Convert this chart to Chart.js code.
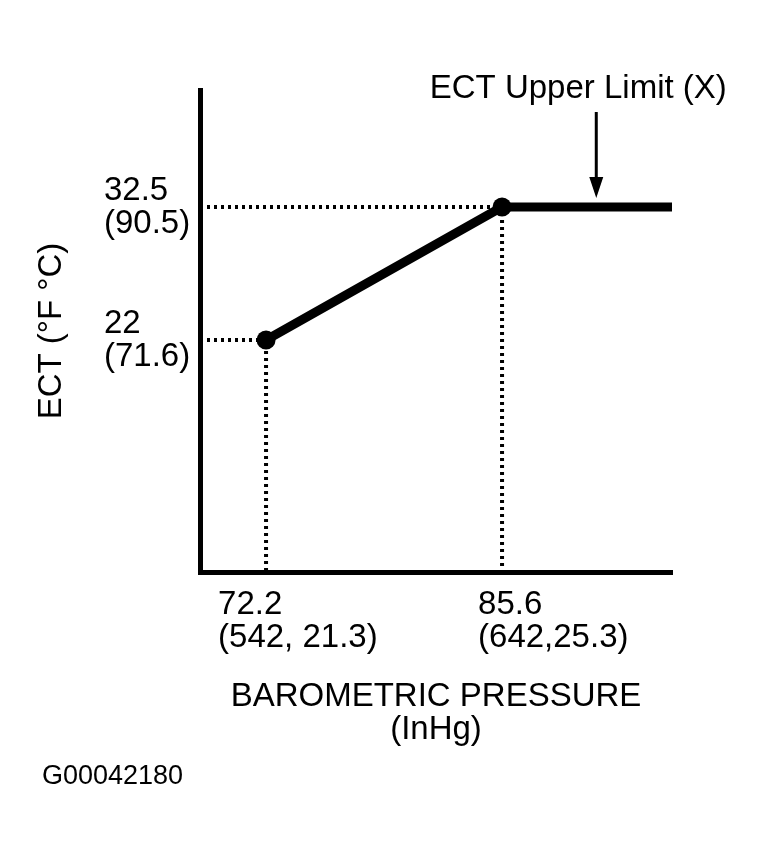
<!DOCTYPE html>
<html>
<head>
<meta charset="utf-8">
<title>ECT vs Barometric Pressure</title>
<script src="https://cdn.jsdelivr.net/npm/chart.js@4"></script>
<style>
  html, body { margin: 0; padding: 0; background: #fff; }
  #wrap { width: 764px; height: 860px; position: relative; }
</style>
</head>
<body>
<div id="wrap"><canvas id="ectChart"></canvas></div>
<script>
// values
const pressure = [72.2, 85.6, 95.25];   // barometric pressure (x)
const ect = [22, 32.5, 32.5];           // ECT (y)
const xTicks = [72.2, 85.6];
const xTickLabels = [['72.2', '(542, 21.3)'], ['85.6', '(642,25.3)']];
const yTicks = [22, 32.5];
const yTickLabels = [['22', '(71.6)'], ['32.5', '(90.5)']];
const xRange = [68.45, 95.25];
const yRange = [3.68, 41.74];
const limitAt = 90.95;   // x value the upper limit arrow points at
const limitLabel = 'ECT Upper Limit (X)';
const figureCode = 'G00042180';

const FONT = '"Liberation Sans", Arial, sans-serif';

// dotted guides from each break point to both axes
let guides = xTicks.map((v, i) => ({
    data: [
        { x: xRange[0], y: ect[i] },
        { x: pressure[i], y: ect[i] },
        { x: pressure[i], y: yRange[0] }
    ],
    borderColor: '#000',
    borderWidth: 4,
    borderDash: [3, 4],
    pointRadius: 0,
    fill: false
}));

const annotate = {
    id: 'annotate',
    afterDraw(chart) {
        const { ctx, scales: { x, y } } = chart;
        const ax = x.getPixelForValue(limitAt);
        const lineY = y.getPixelForValue(ect[2]);
        ctx.save();
        ctx.fillStyle = '#000';
        ctx.strokeStyle = '#000';
        ctx.font = '33px ' + FONT;
        ctx.textAlign = 'center';
        ctx.textBaseline = 'middle';
        ctx.fillText(limitLabel, ax - 18, lineY - 118);

        // arrow down to the flat part
        ctx.lineWidth = 3;
        ctx.beginPath();
        ctx.moveTo(ax, lineY - 95);
        ctx.lineTo(ax, lineY - 26);
        ctx.stroke();
        ctx.beginPath();
        ctx.moveTo(ax - 7, lineY - 30);
        ctx.lineTo(ax + 7, lineY - 30);
        ctx.lineTo(ax, lineY - 9);
        ctx.closePath();
        ctx.fill();

        // x tick labels, left aligned a little before each tick
        const shift = [-48, -24];
        ctx.textAlign = 'left';
        xTicks.forEach((v, i) => {
            const px = x.getPixelForValue(v) + shift[i];
            xTickLabels[i].forEach((line, j) => {
                ctx.fillText(line, px, x.top + 33 + j * 33);
            });
        });

        ctx.font = '27px ' + FONT;
        ctx.fillText(figureCode, 42, 777);
        ctx.restore();
    }
};

let ctx = document.getElementById('ectChart').getContext('2d');

new Chart(ctx, {
    type: 'line',
    data: {
        datasets: [{
            data: pressure.map((p, i) => ({ x: p, y: ect[i] })),
            borderColor: '#000',
            backgroundColor: '#000',
            borderWidth: 9,
            borderCapStyle: 'round',
            borderJoinStyle: 'round',
            pointRadius: [9.5, 9.5, 0],
            pointBorderWidth: 0,
            tension: 0,
            fill: false
        }, ...guides]
    },
    options: {
        responsive: true,
        maintainAspectRatio: false,
        animation: false,
        layout: {
            padding: { top: 90, left: 104, right: 92, bottom: 0 }
        },
        plugins: {
            legend: { display: false },
            tooltip: { enabled: false }
        },
        scales: {
            x: {
                type: 'linear',
                min: xRange[0],
                max: xRange[1],
                afterBuildTicks: scale => { scale.ticks = xTicks.map(v => ({ value: v })); },
                afterFit: scale => { scale.height = 288; },
                grid: { color: 'rgba(0,0,0,0)', drawTicks: false },
                border: { display: true, color: '#000', width: 5 },
                ticks: { display: false },
                title: {
                    display: true,
                    text: ['BAROMETRIC PRESSURE', '(InHg)'],
                    color: '#000',
                    font: { family: FONT, size: 33, lineHeight: 1.0 },
                    padding: { top: 0, bottom: 114 }
                }
            },
            y: {
                type: 'linear',
                min: yRange[0],
                max: yRange[1],
                afterBuildTicks: scale => { scale.ticks = yTicks.map(v => ({ value: v })); },
                afterFit: scale => { scale.width = 96; },
                grid: { color: 'rgba(0,0,0,0)', drawTicks: false },
                border: { display: true, color: '#000', width: 5 },
                ticks: {
                    color: '#000',
                    font: { family: FONT, size: 33, lineHeight: 1.0 },
                    crossAlign: 'far',
                    autoSkip: false,
                    callback: (val, i) => yTickLabels[i]
                },
                title: {
                    display: true,
                    text: 'ECT (°F °C)',
                    color: '#000',
                    font: { family: FONT, size: 33, lineHeight: 1.0 },
                    padding: { top: -69, bottom: 0 }
                }
            }
        }
    },
    plugins: [annotate]
});
</script>
</body>
</html>
